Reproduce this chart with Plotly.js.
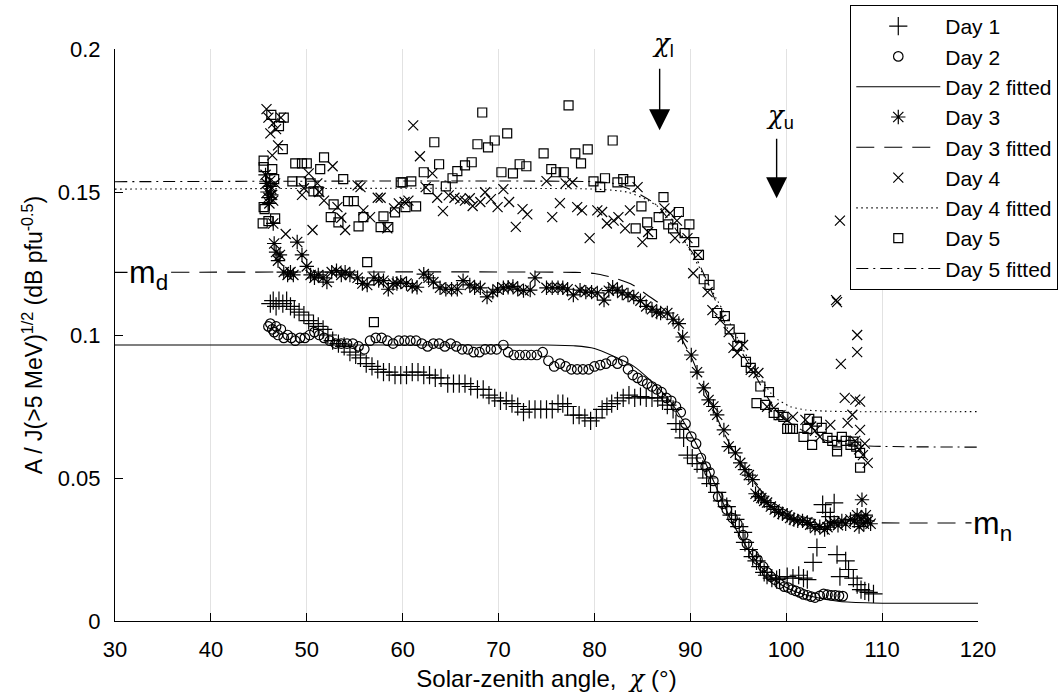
<!DOCTYPE html>
<html>
<head>
<meta charset="utf-8">
<script src="https://cdn.plot.ly/plotly-3.0.1.min.js"></script>
<style>html,body{margin:0;padding:0;background:#fff;}#chart{width:1063px;height:698px;}</style>
</head>
<body>
<div id="chart"></div>
<script>
// ---------- Day 1 (+) ----------
const day1X = [46.2,46.5,46.8,47.1,47.5,47.9,48.3,48.7,49.2,49.7,50.2,50.7,51.2,51.7,52.2,52.7,53.3,53.9,54.5,55.1,55.6,56.2,56.8,57.4,58.0,58.6,59.2,59.8,60.4,61.0,61.6,62.2,62.8,63.4,64.0,64.7,65.3,65.9,66.5,67.1,67.8,68.4,69.0,69.6,70.2,70.8,71.4,72.0,72.6,73.2,73.8,74.4,75.0,75.6,76.2,76.7,77.2,77.8,78.4,79.0,79.6,80.2,80.8,81.3,81.8,82.4,83.0,83.6,84.2,84.8,85.4,86.0,86.6,87.1,87.6,88.2,88.5,88.9,89.3,89.7,90.2,90.7,91.3,91.7,92.1,92.8,93.3,93.8,94.3,94.7,95.1,95.5,95.7,96.1,96.5,96.9,97.3,97.7,98.0,98.5,99.0,99.3,100.1,100.7,101.3,101.8,102.2,102.8,103.2,103.8,104.1,104.6,105.0,105.3,105.6,106.2,106.5,107.0,107.4,107.8,108.2,108.6,109.1];
const day1Y = [0.111,0.112,0.110,0.112,0.111,0.112,0.110,0.109,0.108,0.107,0.105,0.104,0.103,0.102,0.100,0.098,0.097,0.096,0.094,0.093,0.092,0.090,0.089,0.088,0.087,0.087,0.086,0.086,0.086,0.087,0.087,0.086,0.086,0.085,0.085,0.083,0.083,0.083,0.083,0.082,0.081,0.081,0.079,0.078,0.077,0.077,0.076,0.075,0.073,0.074,0.074,0.074,0.074,0.074,0.076,0.076,0.075,0.072,0.072,0.071,0.070,0.071,0.074,0.075,0.076,0.077,0.078,0.079,0.078,0.0785,0.078,0.078,0.078,0.077,0.0755,0.074,0.069,0.067,0.064,0.058,0.057,0.055,0.053,0.050,0.048,0.045,0.042,0.040,0.037,0.0355,0.033,0.031,0.0275,0.025,0.0225,0.021,0.019,0.017,0.016,0.015,0.0145,0.015,0.0155,0.015,0.016,0.015,0.0145,0.0205,0.0257,0.0407,0.038,0.0365,0.0413,0.0232,0.0155,0.021,0.018,0.015,0.0127,0.011,0.0105,0.010,0.0095];

// ---------- Day 2 (o) ----------
const day2X = [46.0,46.2,46.4,46.6,46.8,47.0,47.3,47.6,48.0,48.4,48.8,49.3,49.8,50.3,50.8,51.3,51.8,52.4,53.0,53.6,54.2,54.8,55.4,56.0,56.6,57.2,57.8,58.4,59.0,59.6,60.2,60.8,61.4,62.0,62.6,63.2,63.8,64.4,65.0,65.6,66.2,66.8,67.4,68.0,68.6,69.2,69.8,70.5,71.0,71.6,72.2,72.8,73.4,74.0,74.6,75.2,75.8,76.4,77.0,77.6,78.2,78.8,79.4,80.0,80.6,81.2,81.8,82.4,83.0,83.5,84.0,84.5,85.0,85.5,86.0,86.5,87.0,87.5,88.0,88.5,89.0,89.5,90.1,90.6,91.1,91.6,92.0,92.4,92.9,93.4,93.8,94.4,94.9,95.5,95.9,96.6,97.0,97.6,98.0,98.4,98.8,99.3,99.8,100.2,100.6,101.0,101.4,101.8,102.2,102.6,103.0,103.5,103.9,104.3,104.7,105.1,105.5,105.9];
const day2Y = [0.103,0.104,0.102,0.101,0.103,0.100,0.102,0.099,0.100,0.099,0.098,0.099,0.099,0.100,0.101,0.100,0.099,0.098,0.097,0.097,0.097,0.097,0.096,0.095,0.098,0.099,0.099,0.098,0.097,0.098,0.098,0.098,0.098,0.097,0.096,0.097,0.097,0.096,0.097,0.096,0.095,0.095,0.094,0.094,0.095,0.095,0.095,0.0965,0.094,0.093,0.093,0.093,0.093,0.093,0.094,0.091,0.089,0.090,0.089,0.088,0.088,0.088,0.088,0.089,0.0895,0.090,0.091,0.090,0.091,0.088,0.086,0.085,0.084,0.083,0.082,0.081,0.080,0.078,0.077,0.075,0.073,0.069,0.0645,0.062,0.057,0.054,0.052,0.049,0.0435,0.041,0.039,0.036,0.034,0.030,0.027,0.023,0.0215,0.019,0.017,0.0155,0.0145,0.013,0.012,0.0117,0.011,0.0105,0.010,0.0093,0.009,0.0085,0.0082,0.0088,0.0095,0.0092,0.009,0.009,0.0088,0.0087];

// ---------- Day 2 fitted ----------
const fit2X = [30,75,78,80,82,84,86,88,89.6,91.1,92.8,94,95.2,97,98.7,100.4,102.8,105.6,109,112,120];
const fit2Y = [0.0965,0.0965,0.0962,0.0953,0.0926,0.0893,0.0836,0.0764,0.068,0.0588,0.046,0.037,0.0295,0.0204,0.0146,0.011,0.0085,0.0068,0.0063,0.0062,0.0062];

// ---------- Day 3 (*) ----------
const day3X = [45.7,45.8,45.9,46.0,46.1,46.2,46.3,46.5,46.6,46.8,47.0,47.2,47.6,48.0,48.3,48.6,49.0,49.5,50.0,50.4,50.8,51.2,51.7,52.1,52.6,53.1,53.6,54.0,54.5,55.3,55.8,56.3,57.0,57.5,58.0,58.5,59.0,59.4,59.8,60.4,61.0,61.5,62.2,62.7,63.2,63.9,64.5,65.1,65.7,66.3,67.0,67.5,68.1,68.8,69.4,69.9,70.5,71.0,71.5,72.0,72.6,73.3,73.8,75.0,75.6,76.2,76.7,77.2,77.8,78.5,79.1,79.7,80.3,81.0,81.5,81.9,82.4,82.9,83.5,84.1,84.8,85.4,86.0,86.5,86.9,87.6,88.2,88.8,89.2,90.1,90.7,91.4,91.9,92.4,92.8,93.5,94.0,94.7,95.2,95.7,96.1,96.5,96.8,97.1,97.4,97.7,98.0,98.4,98.8,99.2,99.6,100.1,100.4,100.8,101.2,101.7,102.2,102.5,103.0,103.5,104.0,104.3,104.6,105.0,105.4,105.8,106.2,106.7,107.1,107.4,107.6,107.8,107.9,108.1,108.3,108.5,108.8];
const day3Y = [0.156,0.153,0.150,0.148,0.146,0.152,0.149,0.139,0.132,0.129,0.126,0.128,0.122,0.121,0.122,0.121,0.1325,0.128,0.124,0.121,0.120,0.121,0.120,0.1185,0.122,0.1225,0.121,0.122,0.121,0.120,0.118,0.1175,0.120,0.119,0.119,0.116,0.118,0.118,0.1185,0.118,0.117,0.1167,0.1213,0.120,0.1185,0.1165,0.116,0.116,0.116,0.119,0.1175,0.1165,0.1165,0.1133,0.115,0.116,0.1165,0.1167,0.117,0.116,0.1155,0.1157,0.120,0.1165,0.1165,0.1165,0.1165,0.116,0.114,0.1157,0.115,0.115,0.1147,0.1122,0.1155,0.1167,0.1157,0.1147,0.114,0.1133,0.112,0.110,0.109,0.108,0.1077,0.1077,0.1055,0.104,0.0993,0.093,0.087,0.0815,0.0773,0.075,0.0721,0.0668,0.061,0.0588,0.0553,0.0529,0.051,0.0494,0.0445,0.0435,0.043,0.042,0.0414,0.040,0.039,0.038,0.0375,0.037,0.036,0.0355,0.035,0.035,0.0345,0.0337,0.0325,0.033,0.032,0.0328,0.034,0.0345,0.0335,0.035,0.034,0.0355,0.035,0.037,0.033,0.036,0.0424,0.034,0.037,0.035,0.034];

// ---------- Day 3 fitted ----------
const fit3X = [30,78,80,82,84,85.5,87.6,88.6,90.1,91.8,93.5,95.2,97,98.7,100.4,102.2,104,106,110,120];
const fit3Y = [0.1219,0.1219,0.1215,0.120,0.1175,0.114,0.1087,0.1017,0.0923,0.0785,0.0658,0.0553,0.047,0.0413,0.0379,0.036,0.035,0.0345,0.0343,0.0343];

// ---------- Day 4 (x) ----------
const day4X = [45.8,46.0,46.2,46.4,46.5,46.8,47.0,47.3,46.2,46.3,46.4,46.5,46.7,47.8,49.5,49.7,50.2,50.6,51.1,51.3,51.8,52.7,53.2,53.6,54.0,55.3,55.6,55.9,56.6,57.4,57.7,58.4,59.1,59.6,60.2,60.6,61.1,61.8,62.4,63.1,63.6,64.2,64.8,65.4,66.0,66.5,67.0,67.3,68.1,68.6,69.2,69.9,70.5,71.1,71.8,72.5,73.0,75.0,75.6,76.4,77.0,77.7,78.2,78.7,79.5,80.3,80.8,81.3,82.0,82.5,83.2,83.7,84.5,85.0,85.6,87.3,87.9,88.4,88.6,89.7,90.3,90.8,91.8,92.3,93.1,94.0,94.5,94.9,95.5,96.3,96.6,97.1,98.0,98.7,99.4,100.1,100.7,102.0,102.6,103.0,103.5,104.6,105.2,105.3,105.6,105.7,106.1,106.4,106.9,107.2,107.4,107.4,107.7,107.7,107.2,107.6,108.0,108.2,108.5];
const day4Y = [0.179,0.176,0.1705,0.1628,0.174,0.172,0.1663,0.176,0.154,0.151,0.149,0.147,0.153,0.1353,0.149,0.1513,0.1565,0.1367,0.153,0.150,0.147,0.159,0.1447,0.141,0.1367,0.1523,0.1517,0.1436,0.1412,0.148,0.148,0.1373,0.1443,0.146,0.1465,0.147,0.1733,0.1625,0.1517,0.1565,0.148,0.1433,0.1488,0.148,0.1475,0.147,0.1478,0.1451,0.1465,0.1499,0.1475,0.1447,0.151,0.1465,0.1378,0.144,0.1422,0.1538,0.1412,0.1461,0.153,0.1534,0.1447,0.1436,0.1339,0.1436,0.143,0.139,0.140,0.1412,0.1373,0.1436,0.1517,0.1325,0.136,0.1443,0.1426,0.1339,0.140,0.1339,0.1216,0.128,0.115,0.1087,0.1052,0.101,0.0955,0.0937,0.0965,0.0878,0.087,0.0867,0.0749,0.0745,0.072,0.0703,0.0714,0.0703,0.068,0.0665,0.0644,0.0686,0.1122,0.1115,0.140,0.0899,0.078,0.0693,0.0721,0.0774,0.100,0.094,0.0767,0.0668,0.063,0.060,0.058,0.062,0.0553];

// ---------- Day 4 fitted ----------
const fit4X = [30,80,83.4,85.5,87.6,89,90.1,91.1,92.5,94,95.5,96.3,98.7,100.4,102,104,107,120];
const fit4Y = [0.151,0.151,0.150,0.1472,0.1426,0.1356,0.1286,0.1227,0.114,0.105,0.095,0.0902,0.0785,0.075,0.0738,0.0734,0.0732,0.0732];

// ---------- Day 5 (square) ----------
const day5X = [45.4,45.5,45.6,45.5,45.5,46.0,46.3,46.4,46.6,46.7,47.1,47.5,47.6,48.5,48.8,49.4,49.5,50.0,50.4,50.7,51.2,51.4,51.8,52.5,52.8,53.3,53.8,54.3,54.9,55.4,55.9,56.3,57.0,57.7,58.0,58.5,59.2,59.8,60.0,60.3,60.9,61.4,62.2,62.7,63.3,63.8,64.5,65.2,65.7,66.5,67.2,67.8,68.3,68.9,69.6,70.3,70.9,71.5,72.2,72.9,74.7,75.5,76.0,76.8,77.3,78.0,78.6,79.3,79.9,80.6,81.1,81.9,82.4,83.0,83.7,84.3,84.9,85.5,86.0,86.7,87.2,87.7,88.2,88.8,89.4,89.9,90.4,90.9,91.4,92.0,92.8,93.6,94.1,94.9,95.2,95.8,96.3,96.9,97.3,97.8,98.2,98.7,99.2,99.7,100.1,100.4,100.7,101.8,102.2,102.4,102.7,103.2,103.7,104.3,104.8,105.3,105.3,105.8,106.2,106.7,107.0,107.3,107.7,107.7];
const day5Y = [0.139,0.1447,0.144,0.161,0.1587,0.1398,0.177,0.158,0.1545,0.1408,0.173,0.165,0.176,0.1537,0.160,0.1537,0.160,0.160,0.153,0.1502,0.1502,0.158,0.1621,0.1412,0.1457,0.1394,0.1545,0.1468,0.1468,0.138,0.1412,0.1255,0.1045,0.1377,0.1415,0.1377,0.1429,0.1534,0.1534,0.1447,0.1537,0.145,0.1569,0.151,0.1674,0.1597,0.152,0.1548,0.1573,0.1593,0.1604,0.1667,0.1778,0.1656,0.168,0.1569,0.1705,0.1565,0.1597,0.159,0.1635,0.158,0.1569,0.1569,0.1803,0.1635,0.160,0.1649,0.1537,0.1517,0.1548,0.168,0.1534,0.1545,0.1537,0.1373,0.145,0.1394,0.1353,0.1412,0.1482,0.1387,0.1373,0.143,0.1356,0.1387,0.1325,0.128,0.1195,0.1175,0.1077,0.1066,0.102,0.0962,0.099,0.0906,0.0885,0.0762,0.082,0.0756,0.080,0.0728,0.072,0.0714,0.0672,0.0672,0.0672,0.0644,0.0672,0.0707,0.0616,0.0697,0.0675,0.064,0.063,0.0616,0.0593,0.0644,0.063,0.0616,0.0627,0.061,0.0588,0.0536];

// ---------- Day 5 fitted ----------
const fit5X = [30,80,82,84,86.2,87,89.3,90.7,92.6,93.8,95.2,96.3,98,99.4,101.5,103.9,107.4,120];
const fit5Y = [0.1536,0.1536,0.153,0.1505,0.1462,0.1436,0.1332,0.1263,0.1122,0.1028,0.0948,0.0888,0.0785,0.0716,0.067,0.0634,0.0614,0.0608];

const legendNames = ['Day 1','Day 2','Day 2 fitted','Day 3','Day 3 fitted','Day 4','Day 4 fitted','Day 5','Day 5 fitted'];

const FONT = 'Liberation Sans, Arial, Helvetica, sans-serif';
const K = '#000';

function pts(x, y, name, symbol, size, g) {
  return {x: x, y: y, name: name, type: 'scatter', mode: 'markers', legendgroup: g,
    cliponaxis: false,
    marker: {symbol: symbol, size: size, color: K, line: {color: K, width: 1.2}}};
}
function fit(x, y, name, dash, g) {
  return {x: x, y: y, name: name, type: 'scatter', mode: 'lines', legendgroup: g,
    line: {color: K, width: 1.1, dash: dash, shape: 'spline', smoothing: 0.6}};
}

const traces = [
  pts(day1X, day1Y, legendNames[0], 'cross-thin-open', 13, 'g1'),
  pts(day2X, day2Y, legendNames[1], 'circle-open', 9.5, 'g2'),
  fit(fit2X, fit2Y, legendNames[2], 'solid', 'g3'),
  pts(day3X, day3Y, legendNames[3], 'asterisk-open', 12, 'g4'),
  fit(fit3X, fit3Y, legendNames[4], '18px,10px', 'g5'),
  pts(day4X, day4Y, legendNames[5], 'x-thin-open', 10, 'g6'),
  fit(fit4X, fit4Y, legendNames[6], '1.5px,3.5px', 'g7'),
  pts(day5X, day5Y, legendNames[7], 'square-open', 9, 'g8'),
  fit(fit5X, fit5Y, legendNames[8], '12px,5px,2px,5px', 'g9')
];

const chiSpan = '<span style="font-family:\'DejaVu Serif\',serif;font-style:italic">χ</span>';

const layout = {
  width: 1063, height: 698,
  margin: {l: 115, r: 85, t: 49, b: 77, autoexpand: false},
  paper_bgcolor: '#fff', plot_bgcolor: '#fff',
  font: {family: FONT, size: 22, color: K},
  showlegend: true,
  legend: {
    x: 0.852, y: 1.077, xanchor: 'left', yanchor: 'top',
    bgcolor: '#fff', bordercolor: K, borderwidth: 1,
    font: {family: FONT, size: 21, color: K},
    itemwidth: 84, tracegroupgap: 6.5, traceorder: 'normal'
  },
  xaxis: {
    range: [30, 120], dtick: 10, tick0: 30,
    ticks: 'inside', ticklen: 8, tickcolor: K, tickwidth: 1,
    showline: true, linecolor: K, linewidth: 1, mirror: false,
    showgrid: true, gridcolor: '#e2e2e2', gridwidth: 1, zeroline: false,
    ticklabelstandoff: 9,
    tickfont: {family: FONT, size: 22, color: K},
    title: {text: 'Solar-zenith angle,  ' + chiSpan + ' (°)', font: {family: FONT, size: 24, color: K}, standoff: 8}
  },
  yaxis: {
    range: [0, 0.2], dtick: 0.05, tick0: 0,
    ticks: 'inside', ticklen: 8, tickcolor: K, tickwidth: 1,
    showline: true, linecolor: K, linewidth: 1, mirror: false,
    showgrid: false, zeroline: false,
    ticklabelstandoff: 9,
    tickfont: {family: FONT, size: 22, color: K},
    title: {text: 'A / J(>5 MeV)<sup>1/2</sup> (dB pfu<sup>-0.5</sup>)', font: {family: FONT, size: 23, color: K}, standoff: 8}
  },
  annotations: [
    {x: 86.8, y: 0.1716, ax: 0, ay: -63, text: '', showarrow: true, arrowhead: 2, arrowsize: 3, arrowwidth: 1.4, arrowcolor: K, xref: 'x', yref: 'y'},
    {x: 99.0, y: 0.1478, ax: 0, ay: -61, text: '', showarrow: true, arrowhead: 2, arrowsize: 3, arrowwidth: 1.4, arrowcolor: K, xref: 'x', yref: 'y'},
    {x: 87.2, y: 1.007, text: chiSpan + '<sub>l</sub>', showarrow: false, xanchor: 'center', yanchor: 'middle', font: {family: FONT, size: 26, color: K}, xref: 'x', yref: 'paper'},
    {x: 99.3, y: 0.1765, text: chiSpan + '<sub>u</sub>', showarrow: false, xanchor: 'center', yanchor: 'middle', font: {family: FONT, size: 26, color: K}, xref: 'x', yref: 'y'},
    {x: 33.5, y: 0.1219, text: 'm<sub>d</sub>', showarrow: false, xanchor: 'center', yanchor: 'middle', bgcolor: '#fff', font: {family: FONT, size: 32, color: K}, xref: 'x', yref: 'y', yshift: -2},
    {x: 1.017, y: 0.0343, text: 'm<sub>n</sub>', showarrow: false, xanchor: 'center', yanchor: 'middle', bgcolor: '#fff', font: {family: FONT, size: 32, color: K}, xref: 'paper', yref: 'y', yshift: -3}
  ]
};

Plotly.newPlot('chart', traces, layout, {displayModeBar: false, staticPlot: true});
</script>
</body>
</html>
